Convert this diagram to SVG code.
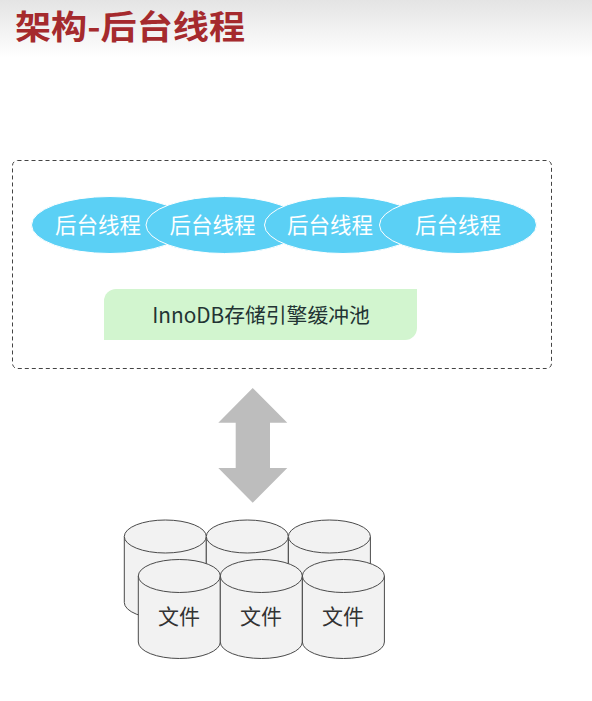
<svg xmlns="http://www.w3.org/2000/svg" width="592" height="701" viewBox="0 0 592 701">
<style>
text{font-family:"Noto Sans CJK SC","Noto Sans",sans-serif}
.th{fill:#5bd0f5;stroke:#fff;stroke-width:1}
.tl{fill:#fff;font-size:21.500px;text-anchor:middle}
.cy{fill:#f2f2f2;stroke:#4a4a4a;stroke-width:1}
.fl{fill:#333;font-size:21px;text-anchor:middle}
</style>
<defs>
<linearGradient id="hd" x1="0" y1="0" x2="0" y2="1"><stop offset="0" stop-color="#e4e4e4"/><stop offset="1" stop-color="#fff"/></linearGradient>
<g id="can"><path class="cy" d="M0 16.500V82.500A41 16.500 0 0 0 82 82.500V16.500"/><ellipse class="cy" cx="41" cy="16.500" rx="41" ry="16.500"/></g>
</defs>
<rect width="592" height="701" fill="#fff"/>
<rect width="592" height="58" fill="url(#hd)"/>
<text id="title" x="15" y="38.500" font-size="33" font-weight="700" fill="#a52a2d" textLength="230" lengthAdjust="spacingAndGlyphs">架构-后台线程</text>
<rect id="frame" x="12.500" y="160.500" width="539" height="208" rx="5" fill="none" stroke="#444" stroke-width="1" stroke-dasharray="4 3"/>
<g id="thread1"><ellipse class="th" cx="110" cy="225" rx="78.500" ry="28.500"/><text class="tl" x="98" y="233">后台线程</text></g>
<g id="thread2"><ellipse class="th" cx="224.500" cy="225" rx="78.500" ry="28.500"/><text class="tl" x="212.500" y="233">后台线程</text></g>
<g id="thread3"><ellipse class="th" cx="343" cy="225" rx="78.500" ry="28.500"/><text class="tl" x="330" y="233">后台线程</text></g>
<g id="thread4"><ellipse class="th" cx="458" cy="225" rx="78.500" ry="28.500"/><text class="tl" x="458" y="233">后台线程</text></g>
<g id="buffer"><path fill="#d2f5cf" d="M116 289H417V328A12 12 0 0 1 405 340H104V301A12 12 0 0 1 116 289Z"/><text x="261" y="323" font-size="20.800" fill="#233" text-anchor="middle">InnoDB存储引擎缓冲池</text></g>
<g id="connectors"><path fill="#bdbdbd" d="M252.700 388L287.300 422.700H270V468H287.300L252.700 502.700L218.300 468H235.700V422.700H218.300Z"/></g>
<g id="file4"><use href="#can" x="124.300" y="520"/></g>
<g id="file5"><use href="#can" x="206.300" y="520"/></g>
<g id="file6"><use href="#can" x="288.400" y="520"/></g>
<g id="file1"><use href="#can" x="138.300" y="559.500"/><text class="fl" x="179" y="624">文件</text></g>
<g id="file2"><use href="#can" x="220.300" y="559.500"/><text class="fl" x="261" y="624">文件</text></g>
<g id="file3"><use href="#can" x="302.400" y="559.500"/><text class="fl" x="343" y="624">文件</text></g>
</svg>
